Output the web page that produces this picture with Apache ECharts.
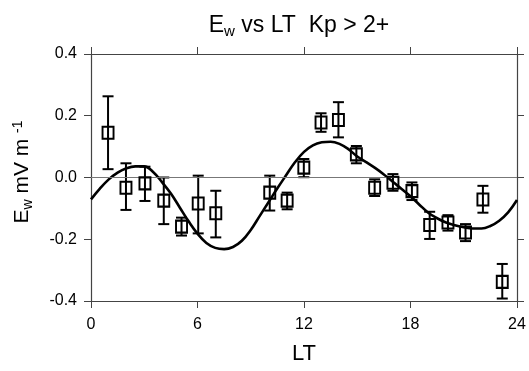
<!DOCTYPE html>
<html>
<head>
<meta charset="utf-8">
<script src="https://cdn.jsdelivr.net/npm/echarts@6/dist/echarts.min.js"></script>
<style>
  html, body { margin: 0; padding: 0; background: #fff; }
  #main { width: 529px; height: 371px; }
</style>
</head>
<body>
<div id="main"></div>
<script>
var myChart = echarts.init(document.getElementById('main'));

// measured points (LT hours, Ew mV/m) with error bar ends
var lt    = [0.96, 1.97, 3.04, 4.1, 5.1, 6.04, 7.03, 10.07, 11.05, 11.99, 12.96, 13.94, 14.95, 15.98, 17.01, 18.08, 19.08, 20.11, 21.1, 22.08, 23.17];
var ew    = [0.145, -0.033, -0.019, -0.075, -0.159, -0.084, -0.116, -0.049, -0.075, 0.032, 0.178, 0.186, 0.075, -0.033, -0.017, -0.044, -0.154, -0.146, -0.178, -0.071, -0.338];
var errHi = [0.263, 0.046, 0.035, 0.000, -0.130, 0.006, -0.043, 0.006, -0.049, 0.060, 0.208, 0.244, 0.102, -0.006, 0.011, -0.016, -0.111, -0.122, -0.151, -0.027, -0.280];
var errLo = [0.027, -0.105, -0.076, -0.151, -0.188, -0.181, -0.194, -0.107, -0.103, 0.001, 0.148, 0.130, 0.046, -0.060, -0.043, -0.073, -0.199, -0.172, -0.206, -0.114, -0.392];

// fitted curve, every half hour
var fitLT = [0, 0.5, 1, 1.5, 2, 2.5, 3, 3.5, 4, 4.5, 5, 5.5, 6, 6.5, 7, 7.5, 8, 8.5, 9, 9.5, 10, 10.5, 11, 11.5,
             12, 12.5, 13, 13.5, 14, 14.5, 15, 15.5, 16, 16.5, 17, 17.5, 18, 18.5, 19, 19.5, 20, 20.5, 21, 21.5, 22, 22.5, 23, 23.5, 24];
var fitEw = [-0.071, -0.036, -0.006, 0.016, 0.030, 0.036, 0.036, 0.018, -0.015, -0.052, -0.097, -0.142, -0.182, -0.212, -0.228, -0.232, -0.225, -0.205, -0.170, -0.125, -0.080, -0.035, 0.008, 0.050,
             0.083, 0.104, 0.114, 0.116, 0.109, 0.092, 0.068, 0.050, 0.031, 0.010, -0.014, -0.037, -0.061, -0.088, -0.114, -0.132, -0.146, -0.155, -0.161, -0.165, -0.165, -0.157, -0.140, -0.113, -0.073];

var pts = [], bars = [], fit = [];
for (var i = 0; i < lt.length; i++) {
    pts.push([lt[i], ew[i]]);
    bars.push([lt[i], errLo[i], errHi[i]]);
}
for (var j = 0; j < fitLT.length; j++) {
    fit.push([fitLT[j], fitEw[j]]);
}

var frame = '#444';
var font = 'Liberation Sans';

var frameAxis = {
    axisLine: {show: true, onZero: false, lineStyle: {color: frame, width: 1.2}},
    axisTick: {show: true, length: 7, lineStyle: {color: frame}},
    splitLine: {show: false}
};

option = {
    backgroundColor: '#fff',
    animation: false,
    title: {
        text: '{a|E}{s|w}{a| vs LT  Kp > 2+}',
        left: 294,
        top: 7,
        textAlign: 'center',
        textStyle: {
            fontSize: 23, fontWeight: 'normal', fontFamily: font, color: '#000',
            rich: {
                a: {fontSize: 23, fontWeight: 'normal', fontFamily: font, color: '#000'},
                s: {fontSize: 15, fontWeight: 'normal', fontFamily: font, color: '#000', padding: [12, 0, 0, 0]}
            }
        }
    },
    grid: {left: 91, right: 12, top: 54, bottom: 70},
    xAxis: [echarts.util.merge({
        type: 'value', min: 0, max: 24, interval: 6,
        name: 'LT', nameLocation: 'middle', nameGap: 42,
        nameTextStyle: {fontSize: 22, fontFamily: font, color: '#000'},
        axisLabel: {margin: 16, fontSize: 16, fontFamily: font, color: '#000'}
    }, frameAxis), echarts.util.merge({
        type: 'value', min: 0, max: 24, interval: 6, position: 'top',
        axisLabel: {show: false}
    }, frameAxis)],
    yAxis: [echarts.util.merge({
        type: 'value', min: -0.4, max: 0.4, interval: 0.2,
        axisLabel: {
            margin: 14, fontSize: 16, fontFamily: font, color: '#000',
            formatter: function (v) { return v.toFixed(1); }
        }
    }, frameAxis), echarts.util.merge({
        type: 'value', min: -0.4, max: 0.4, interval: 0.2, position: 'right',
        axisLabel: {show: false}
    }, frameAxis)],
    graphic: [{
        type: 'text',
        x: 22, y: 172,
        rotation: Math.PI / 2,
        style: {
            text: '{a|E}{s|w}{a| mV m }{p|-1}',
            font: '21px Liberation Sans',
            textAlign: 'center',
            textVerticalAlign: 'middle',
            rich: {
                a: {fontSize: 21, fontFamily: font, fill: '#000'},
                s: {fontSize: 14, fontFamily: font, fill: '#000', padding: [12, 0, 0, 0]},
                p: {fontSize: 14, fontFamily: font, fill: '#000', padding: [0, 0, 8, 0]}
            }
        }
    }],
    series: [{
        name: 'fit',
        type: 'line',
        data: fit,
        smooth: 0.4,
        showSymbol: false,
        lineStyle: {color: '#000', width: 2.6},
        markLine: {
            silent: true,
            symbol: 'none',
            label: {show: false},
            lineStyle: {color: '#777', width: 1, type: 'solid'},
            data: [{yAxis: 0}]
        },
        z: 3
    }, {
        name: 'err',
        type: 'custom',
        data: bars,
        encode: {x: 0, y: [1, 2]},
        renderItem: function (params, api) {
            var lo = api.coord([api.value(0), api.value(1)]);
            var hi = api.coord([api.value(0), api.value(2)]);
            var w = 5.5;
            var st = {stroke: '#000', lineWidth: 2, fill: null};
            return {
                type: 'group',
                children: [
                    {type: 'line', shape: {x1: lo[0], y1: lo[1], x2: hi[0], y2: hi[1]}, style: st},
                    {type: 'line', shape: {x1: lo[0] - w, y1: lo[1], x2: lo[0] + w, y2: lo[1]}, style: st},
                    {type: 'line', shape: {x1: hi[0] - w, y1: hi[1], x2: hi[0] + w, y2: hi[1]}, style: st}
                ]
            };
        },
        z: 4
    }, {
        name: 'Ew',
        type: 'scatter',
        data: pts,
        symbol: 'rect',
        symbolSize: [11, 12],
        itemStyle: {color: 'rgba(0,0,0,0)', borderColor: '#000', borderWidth: 2, opacity: 1},
        z: 5
    }]
};

myChart.setOption(option);
</script>
</body>
</html>
